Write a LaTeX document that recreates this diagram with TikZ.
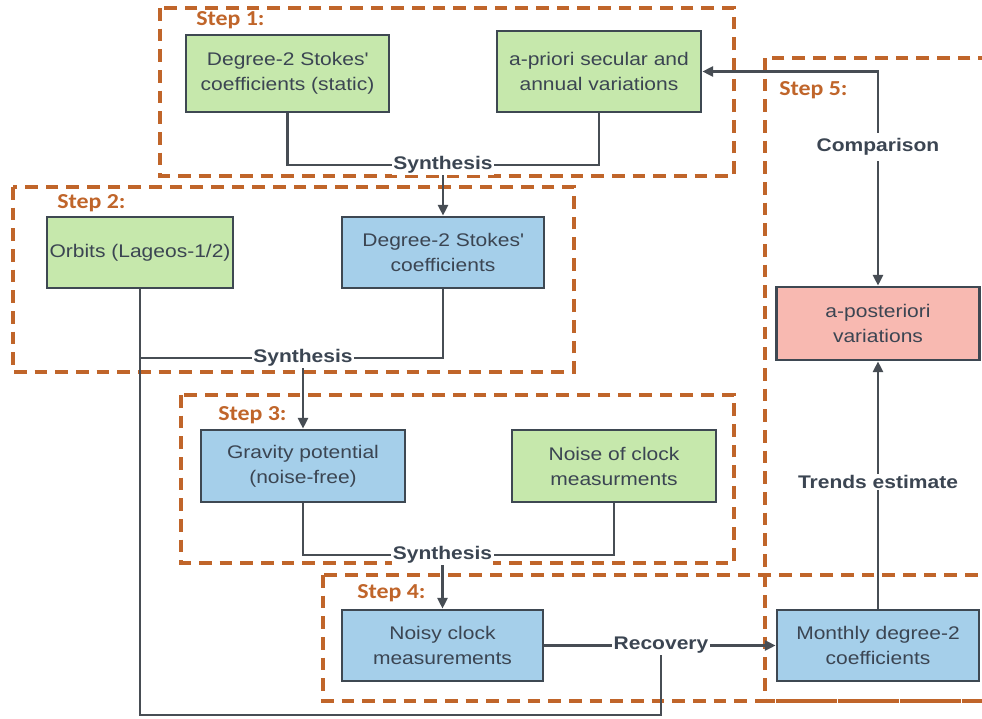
\documentclass[tikz,border=0pt]{standalone}
\usepackage{fontspec}
\setmainfont{Liberation Sans}[FakeStretch=1.15]
\newfontfamily\stepfont{Carlito}[FakeStretch=1.12]
\usetikzlibrary{arrows.meta}
\definecolor{gfill}{HTML}{C6E8AC}
\definecolor{bfill}{HTML}{A5CFEA}
\definecolor{pfill}{HTML}{F8B9B1}
\definecolor{bord}{HTML}{3E4852}
\definecolor{txt}{HTML}{3B4552}
\definecolor{org}{HTML}{C0652A}
\definecolor{wire}{HTML}{474D54}
\tikzset{
  box/.style={rectangle, draw=bord, line width=2.1pt, align=center, text=txt, inner sep=0pt,
    font=\fontsize{13.7}{18.75}\selectfont},
  sz/.style 2 args={minimum width=#1*0.75pt, minimum height=#2*0.75pt},
  stepbox/.style={draw=org, line width=2.5pt, dash pattern=on 9.5pt off 6pt},
  steplbl/.style={anchor=west, text=org, font=\stepfont\bfseries\fontsize{16}{18}\selectfont, inner sep=0pt},
  lbl/.style={fill=white, text=txt, inner sep=1pt, font=\bfseries\fontsize{13.7}{16}\selectfont},
  wire/.style={draw=wire, line width=1.8pt},
  arr/.style={wire, -{Triangle[length=8pt,width=7.5pt]}}
}
\begin{document}
\begin{tikzpicture}[x=0.75pt,y=-0.75pt]
\useasboundingbox (0,0) rectangle (982,718);
\clip (0,0) rectangle (982,718);
\fill[white] (0,0) rectangle (982,718);

% step frames
\draw[stepbox] (160,8) rectangle (734,176);
\draw[stepbox] (13,187) rectangle (574,372);
\draw[stepbox] (181,395) rectangle (734,563);
\draw[stepbox] (323,575) rectangle (1010,701);
\draw[stepbox] (765,58) rectangle (1010,701);

\node[steplbl] (t1) at (196,20) {Step 1:};
\node[steplbl] (t2) at (57,203) {Step 2:};
\node[steplbl] (t3) at (218,415) {Step 3:};
\node[steplbl] (t4) at (357,593) {Step 4:};
\node[steplbl] (t5) at (779,90) {Step 5:};

% boxes
\node[box, fill=gfill, sz={203}{77}] (stat) at (287.5,73.5) {Degree-2 Stokes\textquotesingle\\coefficients (static)};
\node[box, fill=gfill, sz={204}{81}] (apri) at (599,71.5) {a-priori secular and\\annual variations};
\node[box, fill=gfill, sz={186}{71}] (orb) at (140,252.5) {Orbits (Lageos-1/2)};
\node[box, fill=bfill, sz={202}{71}] (d2) at (443,252.5) {Degree-2 Stokes\textquotesingle\\coefficients};
\node[box, fill=bfill, sz={204}{72}] (grav) at (303,466) {Gravity potential\\(noise-free)};
\node[box, fill=gfill, sz={204}{72}] (noise) at (614,466) {Noise of clock\\measurments};
\node[box, fill=bfill, sz={201}{71}] (noisy) at (442.5,645.5) {Noisy clock\\measurements};
\node[box, fill=bfill, sz={202}{71}] (month) at (878,645.5) {Monthly degree-2\\coefficients};
\node[box, fill=pfill, sz={203}{73}] (apost) at (878,323.5) {a-posteriori\\variations};

% labels on connectors
\node[lbl] (s1) at (443,165) {Synthesis};
\node[lbl] (s2) at (303,358) {Synthesis};
\node[lbl] (s3) at (442.5,555) {Synthesis};
\node[lbl] (rec) at (661,645.5) {Recovery};
\node[lbl] (tr) at (878,482) {Trends estimate};
\node[lbl, inner ysep=4pt] (cmp) at (878,147) {Comparison};
\coordinate (bot) at (0,715);

% connectors
\draw[wire] (stat.south) |- (s1.west);
\draw[wire] (apri.south) |- (s1.east);
\draw[arr] (s1.south) -- (d2.north);

\draw[wire] (d2.south) |- (s2.east);
\draw[wire] (s2.west) -- (orb.south |- s2.west);
\draw[arr] (s2.south) -- (grav.north);

\draw[wire] (grav.south) |- (s3.west);
\draw[wire] (noise.south) |- (s3.east);
\draw[arr] (s3.south) -- (noisy.north);

\draw[wire] (noisy.east) -- (rec.west);
\draw[arr] (rec.east) -- (month.west);
\draw[wire] (orb.south) -- (orb.south |- bot) -| (rec.south);

\draw[wire] (month.north) -- (tr.south);
\draw[arr] (tr.north) -- (apost.south);

\draw[arr] (cmp.north) |- (apri.east);
\draw[arr] (cmp.south) -- (apost.north);
\end{tikzpicture}
\end{document}
